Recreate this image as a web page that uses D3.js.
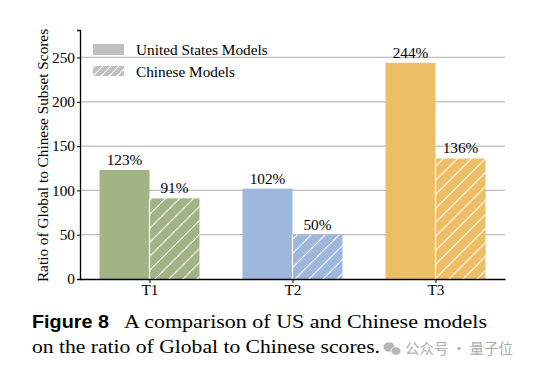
<!DOCTYPE html>
<html lang="en">
<head>
<meta charset="UTF-8">
<title>US vs Chinese models</title>
<script src="https://cdn.jsdelivr.net/npm/d3@7"></script>
<style>
  body { margin: 0; background: #fff; }
  svg { display: block; }
</style>
</head>
<body>
<div id="chart"></div>
<script>
  // data
  const tiers = ["T1", "T2", "T3"];
  const usValues = [123, 102, 244];
  const cnValues = [91, 50, 136];
  const tierColors = ["#a2b486", "#9eb7dd", "#ecbe66"];
  const yTicks = [0, 50, 100, 150, 200, 250];
  const seriesNames = ["United States Models", "Chinese Models"];

  const W = 545, H = 371;
  const plotL = 80, plotR = 505, plotT = 30, plotB = 279;

  const svg = d3.select("#chart").append("svg")
    .attr("width", W).attr("height", H);

  const defs = svg.append("defs");
  tierColors.forEach((c, i) => {
    const p = defs.append("pattern")
      .attr("id", "hatch" + i)
      .attr("patternUnits", "userSpaceOnUse")
      .attr("width", 14).attr("height", 14);
    p.append("rect").attr("width", 14).attr("height", 14).attr("fill", c);
    p.append("path")
      .attr("d", "M-2,16 L16,-2 M-2,2 L2,-2 M12,16 L16,12")
      .attr("stroke", "#fff").attr("stroke-width", 1.1);
  });
  const lp = defs.append("pattern")
    .attr("id", "hatchLegend")
    .attr("patternUnits", "userSpaceOnUse")
    .attr("width", 8).attr("height", 8);
  lp.append("rect").attr("width", 8).attr("height", 8).attr("fill", "#c0c0c0");
  lp.append("path").attr("d", "M-1,9 L9,-1 M-1,1 L1,-1 M7,9 L9,7")
    .attr("stroke", "#fff").attr("stroke-width", 1.1);

  const x = d3.scalePoint().domain(tiers).range([plotL, plotR]).padding(0.486);
  const barW = 50;
  const y = d3.scaleLinear().domain([0, 281]).range([plotB, plotT]);

  // gridlines
  svg.append("g").selectAll("line").data(yTicks.filter(d => d > 0)).join("line")
    .attr("x1", plotL).attr("x2", plotR)
    .attr("y1", d => y(d)).attr("y2", d => y(d))
    .attr("stroke", "#bdbdbd").attr("stroke-width", 1.2);

  const serif = "'Liberation Serif', 'Times New Roman', serif";
  const fs = 15.3;

  // bars
  const g = svg.append("g");
  tiers.forEach((t, i) => {
    const cx = x(t);
    g.append("rect")
      .attr("x", cx - barW).attr("y", y(usValues[i]))
      .attr("width", barW).attr("height", y(0) - y(usValues[i]))
      .attr("fill", tierColors[i]);
    g.append("rect")
      .attr("x", cx).attr("y", y(cnValues[i]))
      .attr("width", barW).attr("height", y(0) - y(cnValues[i]))
      .attr("fill", "url(#hatch" + i + ")");
    g.append("line")
      .attr("x1", cx).attr("x2", cx)
      .attr("y1", y(cnValues[i])).attr("y2", y(0))
      .attr("stroke", "#fff").attr("stroke-width", 1.2);
    g.append("text")
      .attr("x", cx - barW / 2).attr("y", y(usValues[i]) - 5)
      .attr("text-anchor", "middle")
      .attr("font-family", serif).attr("font-size", fs)
      .text(usValues[i] + "%");
    g.append("text")
      .attr("x", cx + barW / 2).attr("y", y(cnValues[i]) - 5)
      .attr("text-anchor", "middle")
      .attr("font-family", serif).attr("font-size", fs)
      .text(cnValues[i] + "%");
  });

  // axes
  const yAxis = svg.append("g").attr("transform", `translate(${plotL},0)`)
    .call(d3.axisLeft(y).tickValues(yTicks).tickSize(3).tickPadding(2));
  yAxis.select(".domain").attr("stroke", "#000").attr("stroke-width", 1.3);
  yAxis.selectAll("text").attr("font-family", serif).attr("font-size", fs).attr("fill", "#000");

  const xAxis = svg.append("g").attr("transform", `translate(0,${plotB})`)
    .call(d3.axisBottom(x).tickSize(4).tickPadding(1).tickSizeOuter(0));
  xAxis.select(".domain").attr("stroke", "#000").attr("stroke-width", 1.3);
  xAxis.selectAll("text").attr("font-family", serif).attr("font-size", fs).attr("fill", "#000");

  svg.append("text")
    .attr("transform", `translate(48,${(plotT + plotB) / 2 + 1}) rotate(-90)`)
    .attr("text-anchor", "middle")
    .attr("font-family", serif).attr("font-size", fs)
    .text("Ratio of Global to Chinese Subset Scores");

  // legend
  const leg = svg.append("g").attr("transform", "translate(93,44)");
  leg.append("rect").attr("width", 31).attr("height", 11).attr("fill", "#c0c0c0");
  leg.append("rect").attr("y", 22).attr("width", 31).attr("height", 10).attr("fill", "url(#hatchLegend)");
  leg.selectAll("text").data(seriesNames).join("text")
    .attr("x", 43).attr("y", (d, i) => 11 + i * 21.5)
    .attr("font-family", serif).attr("font-size", fs)
    .text(d => d);

  // caption
  const cap = svg.append("g");
  cap.append("text")
    .attr("x", 32).attr("y", 328)
    .attr("font-family", "'Liberation Sans', Arial, sans-serif")
    .attr("font-weight", "bold").attr("font-size", 18)
    .attr("textLength", 77).attr("lengthAdjust", "spacingAndGlyphs")
    .text("Figure 8");
  cap.append("text")
    .attr("x", 124).attr("y", 328)
    .attr("font-family", serif).attr("font-size", 17.8)
    .attr("textLength", 363).attr("lengthAdjust", "spacingAndGlyphs")
    .text("A comparison of US and Chinese models");
  cap.append("text")
    .attr("x", 32).attr("y", 353)
    .attr("font-family", serif).attr("font-size", 17.8)
    .attr("textLength", 348).attr("lengthAdjust", "spacingAndGlyphs")
    .text("on the ratio of Global to Chinese scores.");

  // watermark
  const wm = svg.append("g").attr("opacity", 0.7);
  wm.append("ellipse").attr("cx", 389).attr("cy", 347).attr("rx", 5.5).attr("ry", 4.8).attr("fill", "#9a9a9a");
  wm.append("ellipse").attr("cx", 396).attr("cy", 351).attr("rx", 5).attr("ry", 4.3).attr("fill", "#9a9a9a")
    .attr("stroke", "#fff").attr("stroke-width", 0.8);
  wm.append("text")
    .attr("x", 405).attr("y", 354)
    .attr("font-family", "'Noto Sans CJK SC', sans-serif").attr("font-size", 14.5)
    .attr("fill", "#8a8a8a")
    .text("公众号 · 量子位");
</script>
</body>
</html>
